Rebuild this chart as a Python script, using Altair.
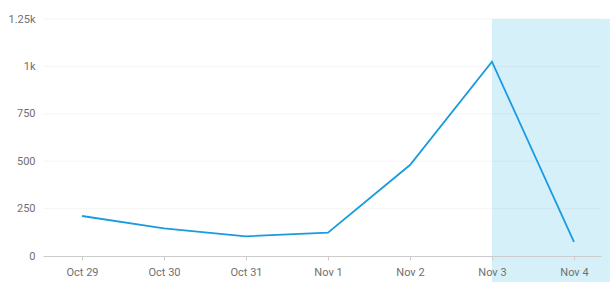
import altair as alt
import pandas as pd

labels = ["Oct 29", "Oct 30", "Oct 31", "Nov 1", "Nov 2", "Nov 3", "Nov 4"]
values = [211, 146, 104, 123, 480, 1025, 75]
y_ticks = [0, 250, 500, 750, 1000, 1250]
highlight_start = [5]
highlight_end = [6.44]

df = pd.DataFrame({"idx": list(range(len(labels))), "label": labels, "value": values})
hl = pd.DataFrame({"x": highlight_start, "x2": highlight_end})
grid_df = pd.DataFrame({"v": y_ticks[1:]})

label_expr = "['Oct 29','Oct 30','Oct 31','Nov 1','Nov 2','Nov 3','Nov 4'][datum.value]"

xscale = alt.Scale(domain=[-0.476, 6.33], nice=False, zero=False)
yscale = alt.Scale(domain=[0, 1250], nice=False)

band = alt.Chart(hl).mark_rect(color="#d6f0fa", clip=False).encode(
    x=alt.X("x:Q", scale=xscale),
    x2="x2:Q",
    y=alt.value(0),
    y2=alt.value(263),
)

grid = alt.Chart(grid_df).mark_rule(color="#000000", opacity=0.045, strokeWidth=1).encode(
    y=alt.Y("v:Q", scale=yscale),
    x=alt.value(0),
    x2=alt.value(558),
)

line = alt.Chart(df).mark_line(color="#1a9be0", strokeWidth=1.8).encode(
    x=alt.X("idx:Q", scale=xscale, title=None,
            axis=alt.Axis(values=list(range(7)), labelExpr=label_expr, grid=False,
                          domainColor="#cccccc", tickColor="#cccccc", tickSize=4,
                          labelColor="#707070", labelFontSize=11, labelPadding=6,
                          labelFont="Roboto", zindex=1)),
    y=alt.Y("value:Q", scale=yscale, title=None,
            axis=alt.Axis(values=y_ticks,
                          labelExpr="datum.value >= 1000 ? format(datum.value/1000, '~g') + 'k' : datum.value",
                          domain=False, ticks=False, grid=False,
                          labelColor="#707070", labelFontSize=11, labelPadding=8,
                          labelFont="Roboto", zindex=1)),
)

chart = (band + grid + line).properties(
    width=558, height=237,
    autosize=alt.AutoSizeParams(type="none"),
    padding={"left": 43, "top": 19, "right": 11, "bottom": 34},
).configure_view(stroke=None)

chart.save("out.html", embed_options={"renderer": "svg", "actions": False})
